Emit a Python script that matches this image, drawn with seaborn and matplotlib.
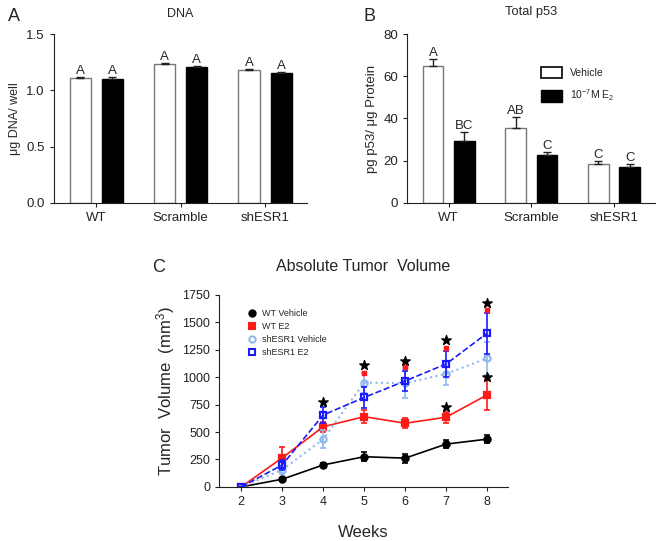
import numpy as np
import pandas as pd
import matplotlib
matplotlib.use("Agg")
import matplotlib.pyplot as plt
import seaborn as sns
from matplotlib.patches import Patch
from matplotlib.lines import Line2D

# ---- data ----
groups = ["WT", "Scramble", "shESR1"]
treatments = ["Vehicle", "E2"]

dna_vehicle = [1.11, 1.23, 1.18]
dna_e2 = [1.10, 1.21, 1.15]
dna_vehicle_err = [0.01, 0.01, 0.01]
dna_e2_err = [0.015, 0.01, 0.01]
dna_letters_vehicle = ["A", "A", "A"]
dna_letters_e2 = ["A", "A", "A"]

p53_vehicle = [65, 35.5, 18.5]
p53_e2 = [29.5, 22.5, 17]
p53_vehicle_err = [3, 5, 1.5]
p53_e2_err = [4, 1.5, 1.5]
p53_letters_vehicle = ["A", "AB", "C"]
p53_letters_e2 = ["BC", "C", "C"]

weeks = [2, 3, 4, 5, 6, 7, 8]
wt_vehicle = [0, 70, 200, 275, 262, 390, 435]
wt_vehicle_err = [0, 15, 20, 40, 40, 35, 35]
wt_e2 = [0, 265, 548, 640, 580, 635, 838]
wt_e2_err = [0, 100, 45, 60, 45, 50, 135]
sh_vehicle = [0, 155, 435, 950, 945, 1030, 1172]
sh_vehicle_err = [0, 35, 85, 90, 135, 105, 150]
sh_e2 = [0, 200, 655, 815, 965, 1120, 1400]
sh_e2_err = [0, 45, 75, 95, 90, 115, 185]

star_weeks = [4, 5, 6, 7, 8, 7, 8]
star_y = [778, 1112, 1151, 1340, 1680, 732, 1000]
red_mark_weeks = [5, 6, 7, 8]
red_mark_y = [1042, 1091, 1264, 1613]

sns.set_style("ticks")
plt.rcParams["font.family"] = ["Liberation Sans", "DejaVu Sans"]
plt.rcParams["mathtext.fontset"] = "custom"
plt.rcParams["mathtext.rm"] = "Liberation Sans"
plt.rcParams["mathtext.it"] = "Liberation Sans"
plt.rcParams["axes.edgecolor"] = "#222222"
plt.rcParams["xtick.color"] = "#222222"
plt.rcParams["ytick.color"] = "#222222"

fig = plt.figure(figsize=(6.58, 5.41), dpi=100)


def bar_panel(ax, vals_v, vals_e, err_v, err_e, let_v, let_e):
    df = pd.DataFrame({
        "group": groups * 2,
        "treatment": [treatments[0]] * 3 + [treatments[1]] * 3,
        "value": vals_v + vals_e,
    })
    sns.barplot(data=df, x="group", y="value", hue="treatment",
                palette={"Vehicle": "white", "E2": "black"},
                width=0.76, gap=0.34, errorbar=None, legend=False, ax=ax)
    for cont, ec in zip(ax.containers, ["#777777", "black"]):
        for bar in cont:
            bar.set_edgecolor(ec)
            bar.set_linewidth(1.0)
    for cont, vals, errs, lets in zip(ax.containers, [vals_v, vals_e],
                                      [err_v, err_e], [let_v, let_e]):
        xs = [b.get_x() + b.get_width() / 2 for b in cont]
        ax.errorbar(xs, vals, yerr=[np.zeros(3), errs], fmt="none",
                    ecolor="#222222", elinewidth=1, capsize=3, capthick=1)
        for x, v, e, t in zip(xs, vals, errs, lets):
            ax.text(x, v + e, t, ha="center", va="bottom", fontsize=9.5)
    ax.set_xlim(-0.5, 2.5)
    ax.set_xlabel("")
    ax.tick_params(axis="both", labelsize=9.5, length=3, width=0.8)
    sns.despine(ax=ax)


# ---- panel A ----
axA = fig.add_axes([0.082, 0.625, 0.385, 0.312])
bar_panel(axA, dna_vehicle, dna_e2, dna_vehicle_err, dna_e2_err,
          dna_letters_vehicle, dna_letters_e2)
axA.set_ylim(0, 1.5)
axA.set_yticks([0.0, 0.5, 1.0, 1.5])
axA.set_yticklabels(["0.0", "0.5", "1.0", "1.5"])
axA.set_ylabel("μg DNA/ well", fontsize=9)
axA.set_title("DNA", fontsize=9, pad=12)
fig.text(0.012, 0.97, "A", fontsize=13, va="center")

# ---- panel B ----
axB = fig.add_axes([0.619, 0.625, 0.377, 0.312])
bar_panel(axB, p53_vehicle, p53_e2, p53_vehicle_err, p53_e2_err,
          p53_letters_vehicle, p53_letters_e2)
axB.set_ylim(0, 80)
axB.set_yticks([0, 20, 40, 60, 80])
axB.set_ylabel("pg p53/ μg Protein", fontsize=9.5)
axB.set_title("Total p53", fontsize=9.3, pad=14)
fig.text(0.552, 0.97, "B", fontsize=13, va="center")
handles = [Patch(facecolor="white", edgecolor="black", linewidth=1.2),
           Patch(facecolor="black", edgecolor="black")]
axB.legend(handles, ["Vehicle", r"10$^{-7}$M E$_2$"], loc="upper left",
           bbox_to_anchor=(0.5, 0.86), frameon=False, fontsize=7.5,
           handlelength=2.0, handleheight=1.3, labelspacing=0.9)

# ---- panel C ----
axC = fig.add_axes([0.333, 0.100, 0.439, 0.355])
series = [
    ("WT Vehicle", wt_vehicle, wt_vehicle_err, "black", "-", "o", "black"),
    ("WT E2", wt_e2, wt_e2_err, "#ff1a1a", "-", "s", "#ff1a1a"),
    ("shESR1 Vehicle", sh_vehicle, sh_vehicle_err, "#8fb8f0", ":", "o", "none"),
    ("shESR1 E2", sh_e2, sh_e2_err, "#1a1aff", "--", "s", "none"),
]
legend_handles = []
for name, vals, errs, col, ls, mk, mfc in series:
    axC.errorbar(weeks, vals, yerr=errs, fmt="none", ecolor=col,
                 elinewidth=1.2, capsize=2.5, capthick=1.2)
    sns.lineplot(x=weeks, y=vals, color=col, linestyle=ls, marker=mk,
                 markersize=4.5, markerfacecolor=mfc, markeredgecolor=col,
                 markeredgewidth=1.6, linewidth=1.2 if ls != ":" else 1.5,
                 ax=axC)
    legend_handles.append(Line2D([], [], linestyle="none", marker=mk,
                                 markersize=4.5, markerfacecolor=mfc,
                                 markeredgecolor=col, markeredgewidth=1.5))
axC.scatter(star_weeks, star_y, marker="*", s=50, color="black", zorder=5)
axC.scatter(red_mark_weeks, red_mark_y, marker="s", s=12, color="#ff1a1a",
            zorder=5)
axC.legend(legend_handles, [s[0] for s in series], loc="upper left",
           bbox_to_anchor=(0.07, 0.97), frameon=False, fontsize=6.5,
           handlelength=1.0, handletextpad=0.6, labelspacing=0.45)
axC.set_xlim(1.46, 8.51)
axC.set_ylim(0, 1750)
axC.set_xticks(weeks)
axC.set_yticks(range(0, 1751, 250))
axC.tick_params(axis="both", labelsize=9, length=3, width=0.8)
axC.set_xlabel("Weeks", fontsize=12)
axC.xaxis.set_label_coords(0.5, -0.2)
axC.set_ylabel("Tumor  Volume  (mm$^3$)", fontsize=12)
axC.set_title("Absolute Tumor  Volume", fontsize=11.5, pad=17)
sns.despine(ax=axC)
fig.text(0.231, 0.505, "C", fontsize=13, va="center")

fig.savefig("out.png", dpi=100)
